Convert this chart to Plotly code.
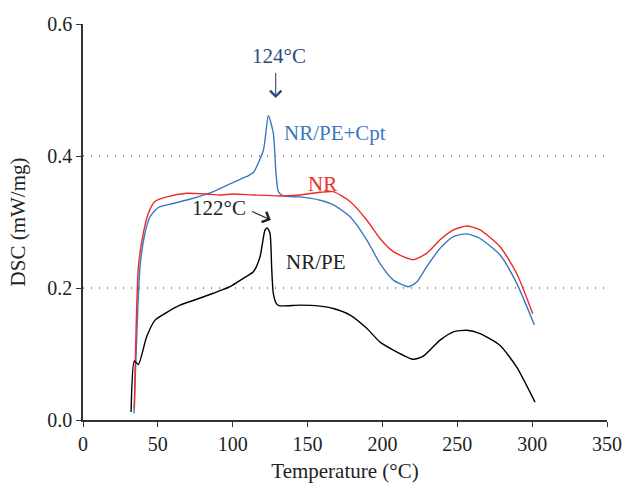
import plotly.graph_objects as go

# NR/PE (black)
nrpe_x = [32.1, 34.3, 37.0, 42.5, 48.0, 56.0, 64.8, 76.0, 87.0, 98.2, 107.0, 113.8, 118.2, 121.6, 123.1,
          124.9, 126.0, 127.1, 129.4, 131.6, 145.0, 158.3, 167.2, 178.4, 189.5, 198.4, 207.3, 220.6,
          227.3, 238.5, 247.4, 256.3, 265.2, 278.6, 289.7, 301.9]
nrpe_y = [0.012, 0.0895, 0.084, 0.126, 0.151, 0.163, 0.174, 0.183, 0.192, 0.202, 0.2146, 0.2246, 0.247,
          0.288, 0.291, 0.283, 0.232, 0.192, 0.1756, 0.173, 0.174, 0.1725, 0.169, 0.159, 0.139, 0.118,
          0.106, 0.092, 0.0967, 0.121, 0.1336, 0.136, 0.131, 0.113, 0.080, 0.027]

# NR (red)
nr_x = [34.3, 37.0, 40.3, 43.6, 48.0, 56.0, 69.3, 82.6, 91.5, 100.4, 113.8, 131.6, 145.0, 158.3, 167.2,
        178.4, 189.5, 198.4, 207.3, 220.6, 229.5, 238.5, 247.4, 256.3, 265.2, 278.6, 289.7, 300.4]
nr_y = [0.017, 0.232, 0.283, 0.313, 0.331, 0.338, 0.3435, 0.3425, 0.341, 0.3425, 0.341, 0.3395, 0.341,
        0.345, 0.346, 0.331, 0.303, 0.275, 0.255, 0.243, 0.2525, 0.273, 0.288, 0.294, 0.288, 0.2625,
        0.222, 0.161]

# NR/PE+Cpt (blue)
cpt_x = [34.1, 38.1, 41.4, 44.8, 50.3, 60.3, 73.7, 87.0, 100.4, 109.4, 113.8, 120.5, 123.8, 127.1, 128.9,
         130.5, 133.8, 145.0, 158.3, 167.2, 178.4, 189.5, 198.4, 207.3, 217.3, 222.9, 229.5, 238.5,
         247.4, 256.3, 265.2, 278.6, 289.7, 301.5]
cpt_y = [0.0097, 0.232, 0.283, 0.308, 0.322, 0.328, 0.336, 0.346, 0.360, 0.369, 0.375, 0.409, 0.461,
         0.435, 0.374, 0.346, 0.3395, 0.338, 0.333, 0.326, 0.308, 0.273, 0.237, 0.212, 0.202, 0.209,
         0.232, 0.260, 0.278, 0.282, 0.275, 0.25, 0.207, 0.144]

x_ticks = [0, 50, 100, 150, 200, 250, 300, 350]
y_ticks = [0.0, 0.2, 0.4, 0.6]
y_tick_labels = ["0.0", "0.2", "0.4", "0.6"]

FONT = "Liberation Serif"
BLUE = "#3a78c0"
RED = "#ee2b2b"
NAVY = "#2e4a7c"
TXT = "#222222"

fig = go.Figure()
fig.add_trace(go.Scatter(x=cpt_x, y=cpt_y, mode="lines", line=dict(color=BLUE, width=1.4, shape="spline", smoothing=0.6), name="NR/PE+Cpt"))
fig.add_trace(go.Scatter(x=nr_x, y=nr_y, mode="lines", line=dict(color=RED, width=1.4, shape="spline", smoothing=0.6), name="NR"))
fig.add_trace(go.Scatter(x=nrpe_x, y=nrpe_y, mode="lines", line=dict(color="black", width=1.4, shape="spline", smoothing=0.6), name="NR/PE"))

# text labels
fig.add_annotation(x=130.9, y=0.551, text="124°C", showarrow=False, font=dict(family=FONT, size=21, color=NAVY))
fig.add_annotation(x=128.7, y=0.4877, ax=128.7, ay=0.528, axref="x", ayref="y", text="", showarrow=True,
                   arrowhead=4, arrowsize=2, arrowwidth=1.1, arrowcolor=NAVY)
fig.add_annotation(x=133.0, y=0.4346, text="NR/PE+Cpt", showarrow=False, xanchor="left", font=dict(family=FONT, size=21, color=BLUE))
fig.add_annotation(x=149.0, y=0.357, text="NR", showarrow=False, xanchor="left", font=dict(family=FONT, size=21, color=RED))
fig.add_annotation(x=71.5, y=0.321, text="122°C", showarrow=False, xanchor="left", font=dict(family=FONT, size=21, color=TXT))
fig.add_annotation(x=125.4, y=0.303, ax=112, ay=0.317, axref="x", ayref="y", text="", showarrow=True,
                   arrowhead=4, arrowsize=2, arrowwidth=1.1, arrowcolor=TXT)
fig.add_annotation(x=134.0, y=0.240, text="NR/PE", showarrow=False, xanchor="left", font=dict(family=FONT, size=21, color=TXT))

fig.update_layout(
    width=624, height=483,
    margin=dict(l=83, r=17, t=24, b=63),
    plot_bgcolor="white", paper_bgcolor="white",
    showlegend=False,
    font=dict(family=FONT, size=20, color=TXT),
    xaxis=dict(range=[0, 350], tickvals=x_ticks, ticks="outside", ticklen=5, tickcolor="#333",
               showline=True, linecolor="#333", linewidth=1.5, showgrid=False, zeroline=False,
               automargin=False, tickfont=dict(family=FONT, size=20, color=TXT),
               title=dict(text="Temperature (°C)", font=dict(family=FONT, size=21, color=TXT), standoff=12)),
    yaxis=dict(range=[0, 0.6], tickvals=y_ticks, ticktext=y_tick_labels, ticks="outside", ticklen=5, tickcolor="#333",
               showline=True, linecolor="#333", linewidth=1.5, showgrid=True, gridcolor="#8a8a8a",
               griddash="1px,7px", gridwidth=1.5, zeroline=False,
               automargin=False, tickfont=dict(family=FONT, size=20, color=TXT),
               title=dict(text="DSC (mW/mg)", font=dict(family=FONT, size=21, color=TXT), standoff=16)),
)

fig.write_html("out.html", config={"displayModeBar": False},
               post_script="document.body.style.margin='0';")
